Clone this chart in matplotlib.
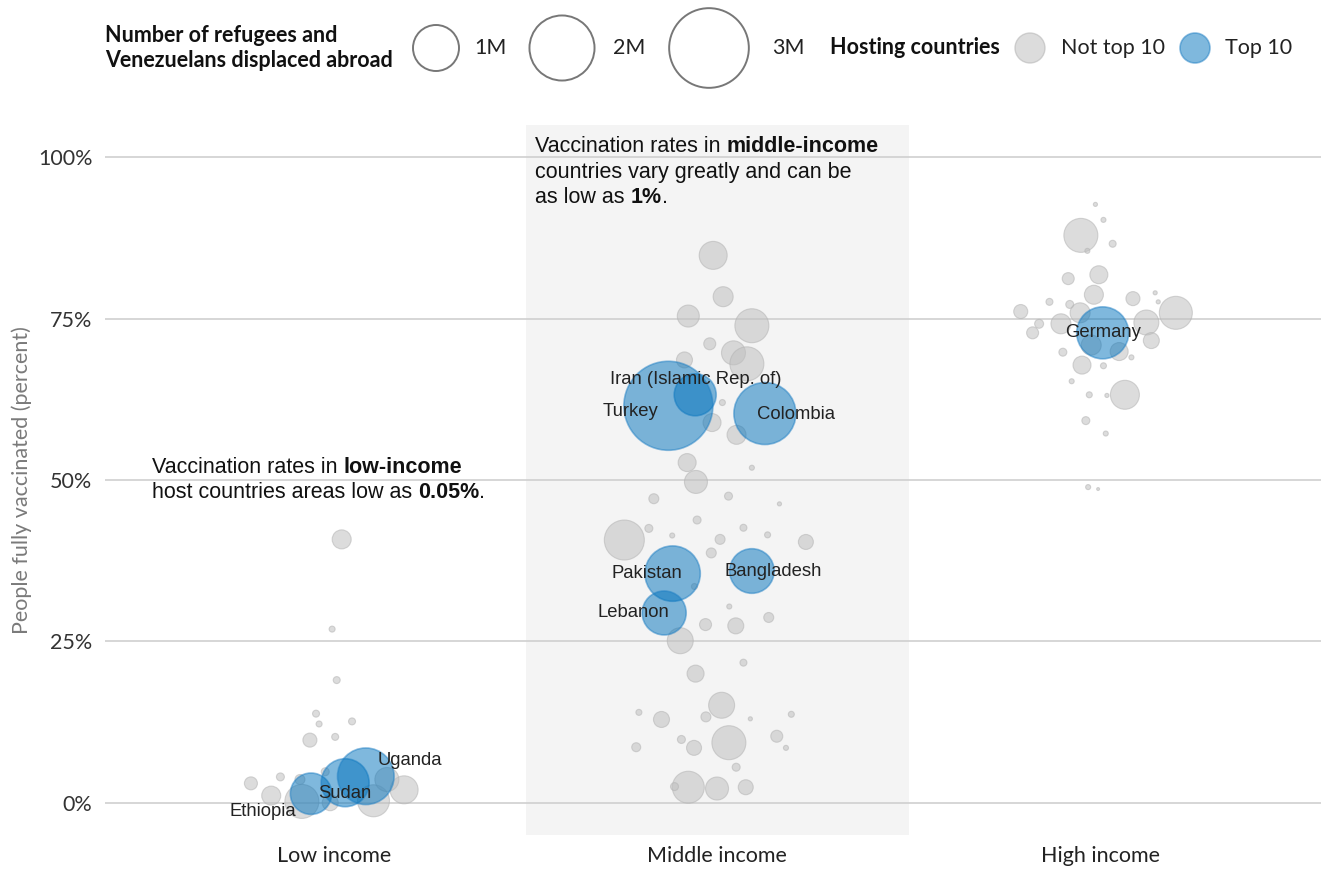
import numpy as np
import matplotlib
matplotlib.use('Agg')
import matplotlib.pyplot as plt
from matplotlib.patches import Circle

plt.rcParams['font.family'] = ['Lato', 'DejaVu Sans']

# ---- data -------------------------------------------------------------
CATEGORIES = ['Low income', 'Middle income', 'High income']

# income group index, horizontal jitter (category widths), % fully vaccinated,
# refugees hosted (thousands)
low_jitter = [0.020, -0.005, 0.007, -0.047, -0.039, 0.047, 0.003, -0.063, -0.217,
              -0.140, -0.164, -0.084, 0.103, 0.183, 0.138, -0.023, -0.010, -0.089]
low_vacc = [40.8, 26.9, 19.0, 13.8, 12.2, 12.6, 10.2, 9.7, 3.0,
            4.0, 1.1, 0.2, 0.3, 2.0, 3.6, 4.8, 0.0, 3.6]
low_refugees = [171, 17, 23, 23, 17, 23, 23, 93, 80,
                30, 171, 546, 484, 370, 272, 30, 121, 47]

mid_jitter = [-0.010, 0.016, -0.075, 0.091, -0.019, 0.043, 0.078, -0.085, 0.014,
              -0.013, 0.051, -0.078, 0.091, -0.055, -0.165, 0.030, 0.163, -0.242,
              -0.178, -0.117, -0.052, 0.069, 0.132, 0.008, -0.015, 0.232, -0.059,
              0.032, 0.135, -0.030, 0.049, -0.096, 0.069, -0.056, 0.012, -0.204,
              -0.145, -0.029, 0.087, 0.194, 0.031, -0.093, -0.060, -0.211, 0.156,
              0.180, 0.050, -0.075, 0.000, 0.075, -0.111]
mid_vacc = [84.8, 78.4, 75.4, 73.9, 71.1, 69.7, 68.0, 68.6, 62.0,
            58.9, 57.0, 52.7, 51.9, 49.7, 47.1, 47.5, 46.3, 40.7,
            42.5, 41.4, 43.8, 42.6, 41.5, 40.8, 38.7, 40.4, 33.5,
            30.4, 28.7, 27.6, 27.4, 25.1, 21.7, 20.0, 15.1, 14.0,
            12.9, 13.3, 13.0, 13.7, 9.3, 9.8, 8.5, 8.6, 10.3,
            8.5, 5.5, 2.4, 2.2, 2.4, 2.5]
mid_refugees = [370, 189, 229, 546, 68, 272, 546, 121, 17,
                153, 171, 153, 12, 250, 47, 30, 8, 756,
                30, 12, 30, 23, 17, 47, 47, 106, 17,
                12, 47, 68, 121, 319, 23, 137, 319, 17,
                121, 47, 8, 17, 546, 30, 106, 38, 68,
                12, 30, 484, 250, 106, 30]

high_jitter = [-0.012, 0.009, -0.050, 0.033, -0.033, -0.003, -0.083, -0.132, -0.016,
               0.086, 0.144, 0.152, 0.198, -0.207, -0.079, -0.052, -0.159, -0.176,
               -0.102, 0.121, 0.134, 0.050, -0.023, -0.097, 0.082, -0.047, 0.009,
               -0.074, 0.065, -0.028, 0.018, -0.037, 0.015, -0.031, -0.005]
high_vacc = [92.7, 90.3, 87.9, 86.6, 85.5, 81.8, 81.2, 77.6, 78.7,
             78.1, 79.0, 77.6, 75.9, 76.1, 77.2, 75.9, 74.2, 72.8,
             74.2, 74.4, 71.6, 69.9, 70.9, 69.8, 69.0, 67.8, 67.7,
             65.3, 63.2, 63.2, 63.1, 59.2, 57.2, 48.9, 48.6]
high_refugees = [8, 12, 546, 23, 12, 153, 68, 23, 171,
                 93, 8, 8, 515, 93, 30, 189, 38, 68,
                 189, 295, 121, 153, 189, 30, 12, 153, 17,
                 12, 397, 17, 8, 30, 12, 12, 4]

# top 10 hosting countries
top_names = ['Ethiopia', 'Sudan', 'Uganda', 'Iran (Islamic Rep. of)', 'Turkey',
             'Colombia', 'Pakistan', 'Bangladesh', 'Lebanon', 'Germany']
top_group = [0, 0, 0, 1, 1, 1, 1, 1, 1, 2]
top_jitter = [-0.060, 0.029, 0.083, -0.057, -0.127, 0.125, -0.116, 0.091, -0.138, 0.007]
top_vacc = [1.4, 3.1, 4.1, 63.2, 61.5, 60.3, 35.5, 35.9, 29.4, 72.8]
top_refugees = [810, 1089, 1514, 834, 3743, 1817, 1450, 940, 915, 1278]

LEGEND_SIZES = [1000, 2000, 3000]
LEGEND_LABELS = ['1M', '2M', '3M']
Y_TICKS = [0, 25, 50, 75, 100]

# ---- style ------------------------------------------------------------
W, H, DPI = 1321, 871, 100
R1M = 23.0                      # bubble radius in px for 1M refugees
BLUE = '#0072BC'
GRAY = '#c0c0c0'
LABEL_FONT = ['Liberation Sans', 'DejaVu Sans']
FS = 15.5


def radius_px(k):
    return R1M * np.sqrt(np.asarray(k, dtype=float) / 1000.0)


def area_pt(k):
    return (2 * radius_px(k) * 72.0 / DPI) ** 2


fig = plt.figure(figsize=(W / DPI, H / DPI), dpi=DPI)
ax = fig.add_axes([105 / W, 1 - 835 / H, 1 - 105 / W, (835 - 125) / H])
ax.set_xlim(-0.598, 2.577)
ax.set_ylim(-5, 105)
for s in ax.spines.values():
    s.set_visible(False)
ax.axvspan(0.5, 1.5, color='#f4f4f4', zorder=0, lw=0)
for yv in Y_TICKS:
    ax.axhline(yv, color='#cfcfcf', lw=1.2, zorder=1)

ax.set_yticks(Y_TICKS)
ax.set_yticklabels([f'{v}%' for v in Y_TICKS])
ax.set_xticks(range(len(CATEGORIES)))
ax.set_xticklabels(CATEGORIES)
ax.tick_params(axis='y', length=0, pad=9, labelsize=FS, labelcolor='#333333')
ax.tick_params(axis='x', length=0, pad=8, labelsize=FS, labelcolor='#222222')
ax.set_ylabel('People fully vaccinated (percent)', color='#7a7a7a',
              fontsize=FS, labelpad=4)

# gray bubbles
for g, (jit, vac, ref) in enumerate([(low_jitter, low_vacc, low_refugees),
                                     (mid_jitter, mid_vacc, mid_refugees),
                                     (high_jitter, high_vacc, high_refugees)]):
    xs = g + np.array(jit)
    ax.scatter(xs, vac, s=area_pt(ref), facecolor=GRAY, alpha=0.55,
               edgecolor='#b4b4b4', linewidth=0.8, zorder=2)

# top-10 bubbles
tx = np.array(top_group) + np.array(top_jitter)
ax.scatter(tx, top_vacc, s=area_pt(top_refugees), facecolor=BLUE, alpha=0.5,
           edgecolor='#1f7fc4', linewidth=1.2, zorder=3)

# label offsets (px) relative to bubble centre
label_off = {'Ethiopia': (-48, 18), 'Sudan': (0, 11), 'Uganda': (44, -16),
             'Iran (Islamic Rep. of)': (1, -15), 'Turkey': (-38, 6),
             'Colombia': (31, 1), 'Pakistan': (-26, 0), 'Bangladesh': (21, 0),
             'Lebanon': (-31, 0), 'Germany': (0, 0)}
for name, x, y in zip(top_names, tx, top_vacc):
    dx, dy = label_off[name]
    ax.annotate(name, (x, y), xytext=(dx * 0.72, -dy * 0.72),
                textcoords='offset points', ha='center', va='center',
                fontsize=13.3, color='#222222', family=LABEL_FONT, zorder=5)

# ---- overlay in pixel coordinates for legend and notes ---------------
ov = fig.add_axes([0, 0, 1, 1], zorder=10)
ov.set_xlim(0, W)
ov.set_ylim(H, 0)
ov.axis('off')
ov.patch.set_visible(False)


def rich_line(x, y, parts, size=15.5):
    t = ov.text(x, y, parts[0][0], fontweight=parts[0][1], fontsize=size,
                va='baseline', ha='left', family=LABEL_FONT, color='#111111')
    for txt, wt in parts[1:]:
        gap = 0.278 * size if txt[0] != '.' else 0
        t = ov.annotate(txt.strip(' '), xy=(1, 0), xycoords=t,
                        xytext=(gap, 0), textcoords='offset points',
                        fontweight=wt, fontsize=size, va='bottom', ha='left',
                        family=LABEL_FONT, color='#111111')


rich_line(535, 152, [('Vaccination rates in', 'normal'), ('middle-income', 'bold')])
rich_line(535, 178, [('countries vary greatly and can be', 'normal')])
rich_line(535, 203, [('as low as', 'normal'), ('1%', 'bold'), ('.', 'normal')])
rich_line(152, 473, [('Vaccination rates in', 'normal'), ('low-income', 'bold')])
rich_line(152, 498, [('host countries areas low as', 'normal'), ('0.05%', 'bold'),
                     ('.', 'normal')])

# legend
ov.text(105, 48, 'Number of refugees and\nVenezuelans displaced abroad',
        fontsize=FS, fontweight='bold', va='center', ha='left', color='#111111',
        linespacing=1.25)
cx = [436, 562, 709]
lx = [474, 613, 772]
for k, lab, c, l in zip(LEGEND_SIZES, LEGEND_LABELS, cx, lx):
    ov.add_patch(Circle((c, 48), radius_px(k), facecolor='none',
                        edgecolor='#777777', lw=1.4))
    ov.text(l, 48, lab, fontsize=FS, va='center', ha='left', color='#222222')
ov.text(830, 48, 'Hosting countries', fontsize=FS, fontweight='bold',
        va='center', ha='left', color='#111111')
ov.add_patch(Circle((1030, 48), 15, facecolor=GRAY, alpha=0.55,
                    edgecolor='#b4b4b4', lw=1.0))
ov.text(1061, 48, 'Not top 10', fontsize=FS, va='center', ha='left', color='#222222')
ov.add_patch(Circle((1195, 48), 15, facecolor=BLUE, alpha=0.5,
                    edgecolor='#1f7fc4', lw=1.2))
ov.text(1225, 48, 'Top 10', fontsize=FS, va='center', ha='left', color='#222222')

fig.savefig('out.png', dpi=DPI, facecolor='white')
